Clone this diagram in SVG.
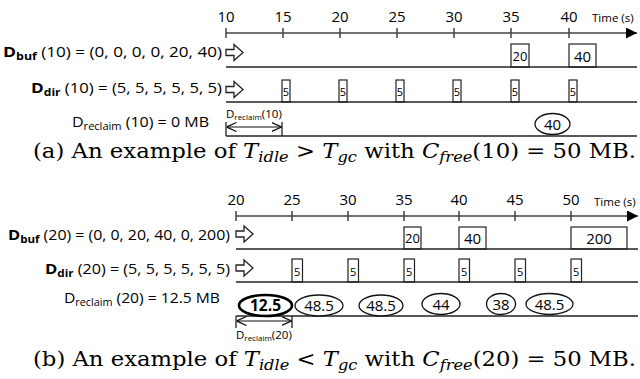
<svg xmlns="http://www.w3.org/2000/svg" width="640" height="379" viewBox="0 0 640 379">
<style>
.s{font-family:"Open Sans","DejaVu Sans",sans-serif;fill:#000}
.lab{font-size:14.5px}
.tick{font-size:15px;text-anchor:middle}
.time{font-size:11.5px}
.cap{font-family:"DejaVu Serif","Liberation Serif",serif;font-size:21px;fill:#000}
.it{font-style:italic}
.axis{stroke:#444;stroke-width:1.5;fill:none}
.row{stroke:#222;stroke-width:1.6;fill:none}
.box{fill:#fff;stroke:#222;stroke-width:1.2}
.ell{fill:#fff;stroke:#111;stroke-width:1.3}
.ellb{fill:#fff;stroke:#000;stroke-width:2.6}
.harrow{fill:#fff;stroke:#222;stroke-width:1.3}
.dim{stroke:#111;stroke-width:1.2;fill:none}
</style>
<defs>
<marker id="ah" viewBox="0 0 10 10" refX="10" refY="5" markerWidth="11" markerHeight="11" markerUnits="userSpaceOnUse" orient="auto"><path d="M0,0 L10,5 L0,10 z" fill="#000"/></marker>
<marker id="open" viewBox="0 0 10 10" refX="10" refY="5" markerWidth="10" markerHeight="10" markerUnits="userSpaceOnUse" orient="auto-start-reverse"><path d="M0,0.5 L10,5 L0,9.5" fill="none" stroke="#111" stroke-width="1.2"/></marker>
</defs>

<!-- Panel (a) -->
<g id="a-axis">
<line class="axis" x1="226" y1="33" x2="637" y2="33" marker-end="url(#ah)"/>
<path class="axis" d="M226,28V38M283,28V38M340,28V38M397,28V38M454,28V38M511,28V38M569,28V38"/>
<g class="s tick">
<text x="226" y="22">10</text><text x="283" y="22">15</text><text x="340" y="22">20</text><text x="397" y="22">25</text><text x="454" y="22">30</text><text x="511" y="22">35</text><text x="569" y="22">40</text>
</g>
<text class="s time" x="592" y="22">Time (s)</text>
</g>
<g id="a-buf">
<text class="s lab" x="3" y="57" textLength="219" lengthAdjust="spacingAndGlyphs"><tspan font-weight="bold" font-size="15">D</tspan><tspan font-weight="bold" font-size="10.5" dy="3">buf</tspan><tspan dy="-3"> (10) = (0, 0, 0, 0, 20, 40)</tspan></text>
<polygon class="harrow" points="226,49.5 234,49.5 234,44.5 243,52.5 234,60.5 234,55.5 226,55.5"/>
<rect class="box" x="511" y="44" width="18" height="23"/>
<text class="s" x="520" y="61" font-size="13" text-anchor="middle">20</text>
<rect class="box" x="569" y="44" width="27" height="23"/>
<text class="s" x="582.5" y="62" font-size="15" text-anchor="middle">40</text>
</g>
<g id="a-dir">
<text class="s lab" x="31" y="93" textLength="191" lengthAdjust="spacingAndGlyphs"><tspan font-weight="bold" font-size="15">D</tspan><tspan font-weight="bold" font-size="10.5" dy="3">dir</tspan><tspan dy="-3"> (10) = (5, 5, 5, 5, 5, 5)</tspan></text>
<polygon class="harrow" points="226,86.5 234,86.5 234,81.5 243,89.5 234,97.5 234,92.5 226,92.5"/>
<g font-size="11" text-anchor="middle" class="s">
<rect class="box" x="282" y="80" width="8" height="22"/><text x="286" y="96">5</text>
<rect class="box" x="339" y="80" width="8" height="22"/><text x="343" y="96">5</text>
<rect class="box" x="396" y="80" width="8" height="22"/><text x="400" y="96">5</text>
<rect class="box" x="453" y="80" width="8" height="22"/><text x="457" y="96">5</text>
<rect class="box" x="511" y="80" width="8" height="22"/><text x="515" y="96">5</text>
<rect class="box" x="569" y="80" width="8" height="22"/><text x="573" y="96">5</text>
</g>
</g>
<g id="a-reclaim">
<text class="s lab" x="72" y="127" textLength="137" lengthAdjust="spacingAndGlyphs"><tspan font-size="14.5">D</tspan><tspan font-size="10" dy="3">reclaim</tspan><tspan dy="-3"> (10) = 0 MB</tspan></text>
<text class="s" x="226" y="118" font-size="11.5"><tspan>D</tspan><tspan font-size="8" dy="2">reclaim</tspan><tspan dy="-2">(10)</tspan></text>
<path class="dim" d="M226,122V136M282,122V136"/>
<line class="dim" x1="226.5" y1="127" x2="281.5" y2="127" marker-start="url(#open)" marker-end="url(#open)"/>
<ellipse class="ell" cx="552.5" cy="124" rx="17.5" ry="10.5"/>
<text class="s" x="552.5" y="129.5" font-size="15" text-anchor="middle">40</text>
</g>
<g id="connectors-a">
<line class="row" x1="226" y1="67" x2="637" y2="67"/>
<line class="row" x1="226" y1="102" x2="637" y2="102"/>
<line class="row" x1="226" y1="136" x2="637" y2="136"/>
</g>
<text class="cap" x="33" y="158" textLength="603" lengthAdjust="spacingAndGlyphs">(a) An example of <tspan class="it">T</tspan><tspan class="it" font-size="15" dy="4">idle</tspan><tspan dy="-4"> &gt; </tspan><tspan class="it">T</tspan><tspan class="it" font-size="15" dy="4">gc</tspan><tspan dy="-4"> with </tspan><tspan class="it">C</tspan><tspan class="it" font-size="15" dy="4">free</tspan><tspan dy="-4">(10) = 50 MB.</tspan></text>

<!-- Panel (b) -->
<g id="b-axis">
<line class="axis" x1="236" y1="216" x2="638" y2="216" marker-end="url(#ah)"/>
<path class="axis" d="M236,211V221M292,211V221M348,211V221M404,211V221M459,211V221M515,211V221M571,211V221"/>
<g class="s tick">
<text x="236" y="205">20</text><text x="292" y="205">25</text><text x="348" y="205">30</text><text x="404" y="205">35</text><text x="459" y="205">40</text><text x="515" y="205">45</text><text x="571" y="205">50</text>
</g>
<text class="s time" x="594" y="206">Time (s)</text>
</g>
<g id="b-buf">
<text class="s lab" x="8" y="240" textLength="222" lengthAdjust="spacingAndGlyphs"><tspan font-weight="bold" font-size="15">D</tspan><tspan font-weight="bold" font-size="10.5" dy="3">buf</tspan><tspan dy="-3"> (20) = (0, 0, 20, 40, 0, 200)</tspan></text>
<polygon class="harrow" points="236,231 244,231 244,226 253,234 244,242 244,237 236,237"/>
<rect class="box" x="404" y="227" width="17" height="22"/>
<text class="s" x="412.5" y="243" font-size="13" text-anchor="middle">20</text>
<rect class="box" x="459" y="227" width="27" height="22"/>
<text class="s" x="472.5" y="244" font-size="15" text-anchor="middle">40</text>
<rect class="box" x="571" y="227" width="56" height="22"/>
<text class="s" x="599" y="244" font-size="15" text-anchor="middle">200</text>
</g>
<g id="b-dir">
<text class="s lab" x="45" y="274" textLength="185" lengthAdjust="spacingAndGlyphs"><tspan font-weight="bold" font-size="15">D</tspan><tspan font-weight="bold" font-size="10.5" dy="3">dir</tspan><tspan dy="-3"> (20) = (5, 5, 5, 5, 5, 5)</tspan></text>
<polygon class="harrow" points="236,265 244,265 244,260 253,268 244,276 244,271 236,271"/>
<g font-size="11" text-anchor="middle" class="s">
<rect class="box" x="292" y="259" width="10.5" height="23"/><text x="297.2" y="276">5</text>
<rect class="box" x="348" y="259" width="10.5" height="23"/><text x="353.2" y="276">5</text>
<rect class="box" x="404" y="259" width="10.5" height="23"/><text x="409.2" y="276">5</text>
<rect class="box" x="459" y="259" width="10.5" height="23"/><text x="464.2" y="276">5</text>
<rect class="box" x="515" y="259" width="10.5" height="23"/><text x="520.2" y="276">5</text>
<rect class="box" x="571" y="259" width="10.5" height="23"/><text x="576.2" y="276">5</text>
</g>
</g>
<g id="connectors-b">
<line class="row" x1="236" y1="249" x2="638" y2="249"/>
<line class="row" x1="236" y1="282" x2="638" y2="282"/>
<line class="row" x1="236" y1="316" x2="638" y2="316"/>
</g>
<g id="b-reclaim">
<text class="s lab" x="64" y="303" textLength="156" lengthAdjust="spacingAndGlyphs"><tspan font-size="14.5">D</tspan><tspan font-size="10" dy="3">reclaim</tspan><tspan dy="-3"> (20) = 12.5 MB</tspan></text>
<ellipse class="ellb" cx="265.5" cy="305.5" rx="26.5" ry="10.5"/>
<text class="s" x="265.5" y="311" font-size="15.5" font-weight="bold" text-anchor="middle">12.5</text>
<ellipse class="ell" cx="319" cy="305.5" rx="24" ry="10.5"/>
<text class="s" x="319" y="311" font-size="15" text-anchor="middle">48.5</text>
<ellipse class="ell" cx="381" cy="305.5" rx="22" ry="10.5"/>
<text class="s" x="381" y="311" font-size="15" text-anchor="middle">48.5</text>
<ellipse class="ell" cx="441" cy="304" rx="19" ry="10.5"/>
<text class="s" x="441" y="309.5" font-size="15" text-anchor="middle">44</text>
<ellipse class="ell" cx="501" cy="304" rx="14.5" ry="10.5"/>
<text class="s" x="501" y="309.5" font-size="15" text-anchor="middle">38</text>
<ellipse class="ell" cx="549.5" cy="304" rx="23.5" ry="10.5"/>
<text class="s" x="549.5" y="309.5" font-size="15" text-anchor="middle">48.5</text>
<path class="dim" d="M236,316V328M292,316V328"/>
<line class="dim" x1="236.5" y1="321" x2="291.5" y2="321" marker-start="url(#open)" marker-end="url(#open)"/>
<text class="s" x="236" y="339" font-size="11.5"><tspan>D</tspan><tspan font-size="8" dy="2">reclaim</tspan><tspan dy="-2">(20)</tspan></text>
</g>
<text class="cap" x="33" y="366" textLength="603" lengthAdjust="spacingAndGlyphs">(b) An example of <tspan class="it">T</tspan><tspan class="it" font-size="15" dy="4">idle</tspan><tspan dy="-4"> &lt; </tspan><tspan class="it">T</tspan><tspan class="it" font-size="15" dy="4">gc</tspan><tspan dy="-4"> with </tspan><tspan class="it">C</tspan><tspan class="it" font-size="15" dy="4">free</tspan><tspan dy="-4">(20) = 50 MB.</tspan></text>
</svg>
